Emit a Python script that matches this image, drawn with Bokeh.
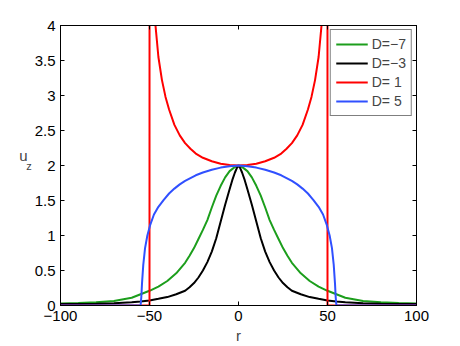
from bokeh.plotting import figure
from bokeh.models import Range1d, FixedTicker, LinearAxis, Legend, LegendItem
from bokeh.embed import file_html
from bokeh.resources import INLINE

# ---- data (left half, r <= 0; curves symmetric about r = 0)
green_r = [-100, -90, -80, -70, -60, -55, -50, -45, -40, -35, -30, -27.5, -25, -22.5, -20,
           -17.5, -15, -12.5, -10, -7.5, -5, -2.5, -1, 0]
green_u = [0.030, 0.037, 0.047, 0.065, 0.11, 0.16, 0.21, 0.27, 0.35, 0.46, 0.61, 0.71, 0.82, 0.95, 1.08,
           1.22, 1.40, 1.57, 1.71, 1.83, 1.92, 1.97, 1.99, 2.0]

black_r = [-100, -90, -80, -70, -60, -55, -50, -45, -40, -35, -30, -27.5, -25, -22.5, -20,
           -17.5, -15, -12.5, -10, -7.5, -5, -3.5, -2, -1, 0]
black_u = [0.020, 0.022, 0.026, 0.032, 0.045, 0.057, 0.072, 0.095, 0.12, 0.16, 0.21, 0.26, 0.32, 0.40, 0.50,
           0.62, 0.77, 0.96, 1.20, 1.44, 1.66, 1.79, 1.90, 1.96, 2.0]

red_r = [-100, -50, -49.95, -47, -45, -43, -41, -39, -36, -33, -30, -27, -24, -20, -15, -10, -5, 0]
red_u = [0, 0, 12, 4.1, 3.55, 3.22, 2.98, 2.80, 2.58, 2.43, 2.32, 2.24, 2.17, 2.11, 2.06, 2.025, 2.006, 2.0]

blue_r = [-100, -55, -54.6, -54.2, -53.5, -52.5, -51.2, -49.5, -47.5, -45, -42, -39, -36, -33, -30,
          -27, -24, -20, -15, -10, -5, 0]
blue_u = [0, 0, 0.12, 0.32, 0.58, 0.82, 1.00, 1.16, 1.30, 1.41, 1.51, 1.60, 1.67, 1.73, 1.78,
          1.82, 1.86, 1.90, 1.94, 1.97, 1.99, 2.0]

series_labels = ["D=\u22127", "D=\u22123", "D= 1", "D= 5"]
series_colors = ["#1c9e1c", "black", "#ff0000", "#3050ff"]

x_ticks = [-100, -50, 0, 50, 100]
x_tick_labels = ["\u2212100", "\u221250", "0", "50", "100"]
y_ticks = [0, 0.5, 1, 1.5, 2, 2.5, 3, 3.5, 4]
y_tick_labels = ["0", "0.5", "1", "1.5", "2", "2.5", "3", "3.5", "4"]


def mirror(r, u):
    rr = list(r) + [-x for x in reversed(r[:-1])]
    uu = list(u) + list(reversed(u[:-1]))
    return rr, uu


FONT = "Liberation Sans"

p = figure(width=460, height=346, x_range=Range1d(-100, 100), y_range=Range1d(0, 4),
           output_backend="svg", toolbar_location=None,
           min_border_left=60, min_border_right=44, min_border_top=25, min_border_bottom=41)
p.xgrid.visible = False
p.ygrid.visible = False
p.outline_line_color = "black"
p.background_fill_color = "white"
p.border_fill_color = "white"

# mirrored (box) axes, ticks only
p.add_layout(LinearAxis(), "above")
p.add_layout(LinearAxis(), "right")

for ax in p.xaxis:
    ax.ticker = FixedTicker(ticks=x_ticks)
    ax.major_label_overrides = dict(zip(x_ticks, x_tick_labels))
for ax in p.yaxis:
    ax.ticker = FixedTicker(ticks=y_ticks)
    ax.major_label_overrides = dict(zip(y_ticks, y_tick_labels))

for ax in p.xaxis + p.yaxis:
    ax.major_tick_in = 4
    ax.major_tick_out = 0
    ax.minor_tick_in = 0
    ax.minor_tick_out = 0
    ax.axis_line_color = "black"
    ax.major_tick_line_color = "black"
    ax.major_label_text_font = FONT
    ax.major_label_text_font_size = "15px"
    ax.major_label_text_color = "black"

p.above[0].major_label_text_color = None
p.above[0].major_label_standoff = 0
p.right[0].major_label_text_color = None
p.right[0].major_label_standoff = 0

xb = p.below[0]
xb.major_label_standoff = 5
xb.axis_label = "r"
xb.axis_label_text_font = FONT
xb.axis_label_text_font_size = "15px"
xb.axis_label_text_font_style = "normal"
xb.axis_label_standoff = 3

# y label "u" with subscript "z": main left axis carries the subscript,
# an outer tick-less axis carries the "u" (raised by an empty second line)
yl = p.left[0]
yl.major_label_standoff = 5
yl.axis_label = "z"
yl.axis_label_orientation = "horizontal"
yl.axis_label_text_font = FONT
yl.axis_label_text_font_size = "11px"
yl.axis_label_text_font_style = "normal"
yl.axis_label_standoff = 0

yu = LinearAxis(ticker=FixedTicker(ticks=[]), axis_line_color=None,
                major_tick_in=0, major_tick_out=0, minor_tick_in=0, minor_tick_out=0,
                major_label_standoff=0, axis_label="u\n", axis_label_orientation="horizontal",
                axis_label_text_font=FONT, axis_label_text_font_size="15px",
                axis_label_text_font_style="normal", axis_label_standoff=-4)
p.add_layout(yu, "left")

renderers = []
for (r, u), col in zip([(green_r, green_u), (black_r, black_u), (red_r, red_u), (blue_r, blue_u)],
                       series_colors):
    rr, uu = mirror(r, u)
    renderers.append(p.line(rr, uu, line_color=col, line_width=2))

legend = Legend(items=[LegendItem(label=l, renderers=[rd]) for l, rd in zip(series_labels, renderers)],
                location="top_right")
legend.border_line_color = "black"
legend.border_line_width = 1
legend.background_fill_color = "white"
legend.background_fill_alpha = 1
legend.label_text_font = FONT
legend.label_text_font_size = "14px"
legend.glyph_width = 32
legend.glyph_height = 18
legend.label_height = 18
legend.spacing = 1
legend.padding = 5
legend.margin = 4
legend.label_standoff = 4
p.add_layout(legend)

open("out.html", "w").write(file_html(p, INLINE))
